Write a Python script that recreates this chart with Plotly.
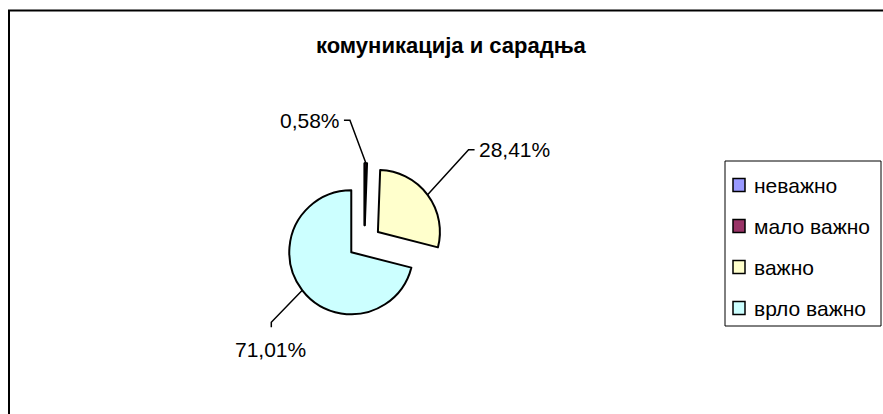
import math
import plotly.graph_objects as go

# ---- data ----
categories = ["неважно", "мало важно", "важно", "врло важно"]
percents = [0.0, 0.58, 28.41, 71.01]
colors = ["#9999FF", "#993366", "#FFFFCC", "#CCFFFF"]
title_text = "комуникација и сарадња"

# ---- layout constants (pixels) ----
W, H = 883, 414
CX, CY = 364.5, 242.0     # pie centre
R = 62.0                  # pie radius
PULL = 0.27               # explosion

FONT = "Liberation Sans, Arial, sans-serif"

def px(x):
    return x / W

def py(y):
    return 1 - y / H

labels_txt = [("" if v == 0 else f"{v:.2f}%".replace(".", ",")) for v in percents]

half = R * (1 + PULL)
fig = go.Figure()
fig.add_trace(go.Pie(
    labels=categories,
    values=percents,
    marker=dict(colors=colors, line=dict(color="black", width=2)),
    sort=False,
    direction="clockwise",
    rotation=0,
    pull=[PULL] * len(percents),
    textinfo="none",
    hoverinfo="none",
    showlegend=False,
    domain=dict(x=[px(CX - half), px(CX + half)],
                y=[(H - CY - half) / H, (H - CY + half) / H]),
))

shapes = []
annotations = []

# frame (extends past right and bottom edges like the original)
shapes.append(dict(type="rect", xref="paper", yref="paper",
                   x0=px(9), y0=py(10.5), x1=px(W + 20), y1=py(H + 20),
                   line=dict(color="black", width=2), fillcolor="rgba(0,0,0,0)"))

# title
annotations.append(dict(text="<b>" + title_text + "</b>", xref="paper", yref="paper",
                        x=px(451), y=py(45), xanchor="center", yanchor="middle",
                        showarrow=False, font=dict(family=FONT, size=22, color="black")))

# data labels with leader lines, anchored at each slice's outer mid point
total = sum(percents)
label_style = {
    # index: (dx, dy of text anchor from tip, xanchor, yanchor, leader kind)
    1: (-24, -43, "right", "middle", "right"),
    2: (49, -45, "left", "middle", "left"),
    3: (-32, 59, "center", "middle", "top"),
}
cum = 0.0
for i, v in enumerate(percents):
    start = cum
    cum += v
    if v == 0:
        continue
    mid = (start + cum) / 2 / total * 2 * math.pi
    dx, dy = math.sin(mid), -math.cos(mid)
    tipx = CX + R * (1 + PULL) * dx
    tipy = CY + R * (1 + PULL) * dy
    ox, oy, xa, ya, kind = label_style[i]
    ax_, ay_ = tipx + ox, tipy + oy
    annotations.append(dict(text=labels_txt[i], xref="paper", yref="paper",
                            x=px(ax_), y=py(ay_), xanchor=xa, yanchor=ya,
                            showarrow=False,
                            font=dict(family=FONT, size=21, color="black")))
    if kind == "right":
        pts = [(ax_ + 2, ay_), (ax_ + 8, ay_), (tipx, tipy)]
    elif kind == "left":
        pts = [(ax_ - 2, ay_), (ax_ - 8, ay_), (tipx, tipy)]
    else:
        pts = [(ax_ + 1, ay_ - 22), (ax_ + 1, ay_ - 27), (tipx, tipy)]
    path = "M " + " L ".join(f"{px(x):.5f},{py(y):.5f}" for x, y in pts)
    shapes.append(dict(type="path", xref="paper", yref="paper", path=path,
                       line=dict(color="black", width=1.5)))

# legend (drawn manually)
LX0, LY0, LX1, LY1 = 725, 161, 881, 326
shapes.append(dict(type="rect", xref="paper", yref="paper",
                   x0=px(LX0), y0=py(LY0), x1=px(LX1), y1=py(LY1),
                   line=dict(color="black", width=1), fillcolor="white"))
for i, (cat, col) in enumerate(zip(categories, colors)):
    yc = 185 + 41 * i
    shapes.append(dict(type="rect", xref="paper", yref="paper",
                       x0=px(733), y0=py(yc - 6.5), x1=px(745), y1=py(yc + 6.5),
                       line=dict(color="black", width=1.5), fillcolor=col))
    annotations.append(dict(text=cat, xref="paper", yref="paper",
                            x=px(752), y=py(yc), xanchor="left", yanchor="middle",
                            showarrow=False,
                            font=dict(family=FONT, size=21, color="black")))

fig.update_layout(
    width=W, height=H, autosize=False,
    margin=dict(l=0, r=0, t=0, b=0),
    paper_bgcolor="white", plot_bgcolor="white",
    shapes=shapes, annotations=annotations,
)

fig.write_html("out.html", config={"displayModeBar": False},
               post_script="document.body.style.margin='0';")
